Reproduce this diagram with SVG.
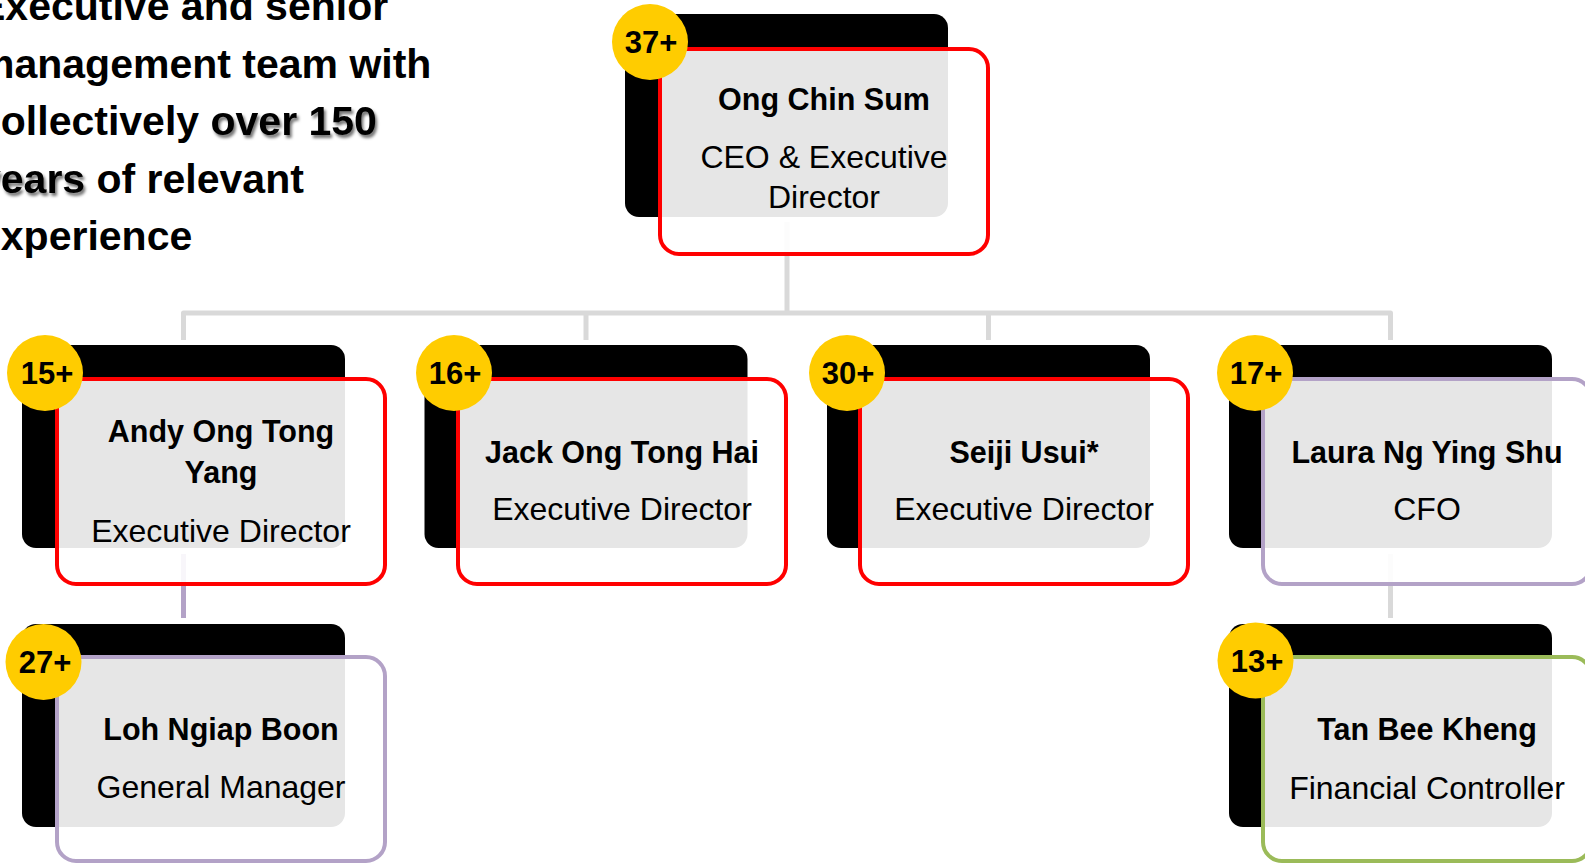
<svg xmlns="http://www.w3.org/2000/svg" width="1585" height="864" viewBox="0 0 1585 864">
  <defs>
    <filter id="soft" x="-10%" y="-30%" width="130%" height="170%">
      <feDropShadow dx="2" dy="3" stdDeviation="1.6" flood-color="#000" flood-opacity="0.55"/>
    </filter>
    <style>
      .back { fill: #000000; }
      .card { fill: #FFFFFF; fill-opacity: 0.9; stroke-width: 4; }
      .red { stroke: #FF0000; }
      .purple { stroke: #B3A2C7; }
      .green { stroke: #9BBB59; }
      .badge { fill: #FFCC00; }
      .badge-t { font-family: "Liberation Sans", Arial, sans-serif; font-weight: bold; font-size: 31px; fill: #000; text-anchor: middle; }
      .name { font-family: "Liberation Sans", Arial, sans-serif; font-weight: bold; font-size: 30.5px; fill: #000; text-anchor: middle; }
      .role { font-family: "Liberation Sans", Arial, sans-serif; font-size: 32px; fill: #000; text-anchor: middle; }
      .head { font-family: "Liberation Sans", Arial, sans-serif; font-weight: bold; font-size: 41px; fill: #000; }
      .link { fill: none; stroke: #D9D9D9; stroke-width: 5; stroke-linejoin: round; }
      .link-p { fill: none; stroke: #B3A2C7; stroke-width: 5; }
    </style>
  </defs>

  <rect width="1585" height="864" fill="#FFFFFF"/>

  <!-- heading copy; the highlighted phrases carry a soft shadow -->
  <g id="heading">
    <text class="head" x="-22" y="20">Executive and senior</text>
    <text class="head" x="-22" y="78">management team with</text>
    <text class="head" x="-22" y="135">collectively</text>
    <text class="head" x="210.5" y="135" filter="url(#soft)">over 150</text>
    <text class="head" x="-22" y="193" filter="url(#soft)">years</text>
    <text class="head" x="96.5" y="193">of relevant</text>
    <text class="head" x="-22" y="250">experience</text>
  </g>

  <!-- connectors -->
  <g id="connectors">
    <path class="link" d="M787 222 V313"/>
    <path class="link" d="M183.5 340 V313 H1390.5 V340"/>
    <path class="link" d="M586 313 V340"/>
    <path class="link" d="M988.5 313 V340"/>
    <path class="link-p" d="M183.5 554 V618"/>
    <path class="link" d="M1390.5 554 V618"/>
  </g>

  <!-- CEO -->
  <g id="node-ong-chin-sum">
    <rect class="back" x="625" y="14" width="323" height="203" rx="14"/>
    <rect class="card red" x="660" y="49" width="328" height="205" rx="19"/>
    <text class="name" x="824" y="110">Ong Chin Sum</text>
    <text class="role" x="824" y="168">CEO &amp; Executive</text>
    <text class="role" x="824" y="208">Director</text>
    <circle class="badge" cx="650" cy="42" r="38"/>
    <text class="badge-t" x="651" y="53">37+</text>
  </g>

  <!-- second tier -->
  <g id="node-andy-ong">
    <rect class="back" x="22" y="345" width="323" height="203" rx="14"/>
    <rect class="card red" x="57" y="379" width="328" height="205" rx="19"/>
    <text class="name" x="221" y="442">Andy Ong Tong</text>
    <text class="name" x="221" y="483">Yang</text>
    <text class="role" x="221" y="542">Executive Director</text>
    <circle class="badge" cx="45" cy="373" r="38"/>
    <text class="badge-t" x="47" y="384">15+</text>
  </g>

  <g id="node-jack-ong">
    <rect class="back" x="424.5" y="345" width="323" height="203" rx="14"/>
    <rect class="card red" x="458" y="379" width="328" height="205" rx="19"/>
    <text class="name" x="622" y="463">Jack Ong Tong Hai</text>
    <text class="role" x="622" y="520">Executive Director</text>
    <circle class="badge" cx="454" cy="373" r="38"/>
    <text class="badge-t" x="455" y="384">16+</text>
  </g>

  <g id="node-seiji-usui">
    <rect class="back" x="827" y="345" width="323" height="203" rx="14"/>
    <rect class="card red" x="860" y="379" width="328" height="205" rx="19"/>
    <text class="name" x="1024" y="463">Seiji Usui*</text>
    <text class="role" x="1024" y="520">Executive Director</text>
    <circle class="badge" cx="847" cy="373" r="38"/>
    <text class="badge-t" x="848" y="384">30+</text>
  </g>

  <g id="node-laura-ng">
    <rect class="back" x="1229" y="345" width="323" height="203" rx="14"/>
    <rect class="card purple" x="1263" y="379" width="328" height="205" rx="19"/>
    <text class="name" x="1427" y="463">Laura Ng Ying Shu</text>
    <text class="role" x="1427" y="520">CFO</text>
    <circle class="badge" cx="1255" cy="373" r="38"/>
    <text class="badge-t" x="1256" y="384">17+</text>
  </g>

  <!-- third tier -->
  <g id="node-loh-ngiap-boon">
    <rect class="back" x="22" y="624" width="323" height="203" rx="14"/>
    <rect class="card purple" x="57" y="657" width="328" height="204" rx="19"/>
    <text class="name" x="221" y="740">Loh Ngiap Boon</text>
    <text class="role" x="221" y="798">General Manager</text>
    <circle class="badge" cx="43.5" cy="662" r="38"/>
    <text class="badge-t" x="45" y="673">27+</text>
  </g>

  <g id="node-tan-bee-kheng">
    <rect class="back" x="1229" y="624" width="323" height="203" rx="14"/>
    <rect class="card green" x="1263" y="657" width="328" height="204" rx="19"/>
    <text class="name" x="1427" y="740">Tan Bee Kheng</text>
    <text class="role" x="1427" y="799">Financial Controller</text>
    <circle class="badge" cx="1255.5" cy="660.5" r="38"/>
    <text class="badge-t" x="1257" y="671.5">13+</text>
  </g>
</svg>
